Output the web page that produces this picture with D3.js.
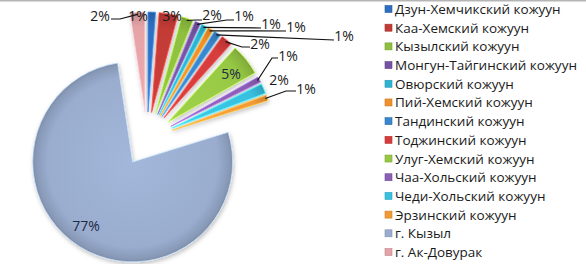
<!DOCTYPE html>
<html><head><meta charset="utf-8">
<script src="https://cdn.jsdelivr.net/npm/d3@7"></script>
<style>
html,body{margin:0;padding:0;background:#fff;}
svg{display:block;}
</style></head>
<body>
<svg id="chart" width="586" height="264"></svg>
<script>
// ---- data ----
const categories = [
  "Дзун-Хемчикский кожуун","Каа-Хемский кожуун","Кызылский кожуун","Монгун-Тайгинский кожуун",
  "Овюрский кожуун","Пий-Хемский кожуун","Тандинский кожуун","Тоджинский кожуун",
  "Улуг-Хемский кожуун","Чаа-Хольский кожуун","Чеди-Хольский кожуун","Эрзинский кожуун",
  "г. Кызыл","г. Ак-Довурак"
];
const values = [1.2, 3.0, 1.9, 0.9, 0.9, 0.9, 1.1, 1.8, 5.1, 0.9, 1.6, 0.9, 77.4, 2.4];
const labels = ["1%","3%","2%","1%","1%","1%","1%","2%","5%","1%","2%","1%","77%","2%"];

// ---- style / layout ----
const colors = ["#2f6fbf","#c23b36","#8fbf3f","#7453a3","#2fb3d3","#f0902c",
                "#3a86cc","#d63c3c","#97c844","#8a5fb5","#38c0e0","#f29a36","#9aadcf","#e4a3a7"];
const labelLayout = [
  {x:138,y:15},
  {x:172,y:15},
  {x:212,y:14, lead:[[202,20],[196,20]]},
  {x:244,y:15, lead:[[234,20],[227,20]]},
  {x:271,y:23, lead:[[261,28]]},
  {x:296,y:26, lead:[[286,31]]},
  {x:344,y:35, lead:[[334,40]]},
  {x:260,y:43, lead:[[250,47],[242,47]]},
  {x:231,y:73, dark:true},
  {x:288,y:55, lead:[[278,58],[272,58]]},
  {x:279,y:79},
  {x:306,y:88, lead:[[296,91],[286,91]]},
  {x:86,y:225, dark:true},
  {x:100,y:15, lead:[[111,19],[120,19]]}
];
const cx = 147, cy = 139, R = 100, explode = 27;

const svg = d3.select("#chart");
svg.append("rect").attr("x",0).attr("y",0).attr("width",586).attr("height",1.5).attr("fill","#b5b5b5");

const defs = svg.append("defs");
const f = defs.append("filter").attr("id","sh").attr("x","-20%").attr("y","-20%").attr("width","140%").attr("height","140%");
f.append("feDropShadow").attr("dx",1).attr("dy",2).attr("stdDeviation",2).attr("flood-color","#000").attr("flood-opacity",0.25);

colors.forEach((c,i)=>{
  const g = defs.append("radialGradient").attr("id","g"+i)
    .attr("gradientUnits","userSpaceOnUse").attr("cx",0).attr("cy",0).attr("r",R);
  g.append("stop").attr("offset","0%").attr("stop-color",d3.color(c).brighter(0.15));
  g.append("stop").attr("offset","85%").attr("stop-color",c);
  g.append("stop").attr("offset","97%").attr("stop-color",d3.color(c).darker(0.35));
  g.append("stop").attr("offset","100%").attr("stop-color",d3.color(c).darker(0.6));
});

const pie = d3.pie().sort(null).value(d=>d)(values);
const arc = d3.arc().innerRadius(0).outerRadius(R);

const gPie = svg.append("g").attr("transform",`translate(${cx},${cy})`);
function off(d){
  const a=(d.startAngle+d.endAngle)/2;
  return [Math.sin(a)*explode, -Math.cos(a)*explode];
}
gPie.selectAll("path").data(pie).join("path")
  .attr("transform",d=>{const o=off(d);return `translate(${o[0]},${o[1]})`;})
  .attr("d",arc)
  .attr("fill",(d,i)=>`url(#g${i})`)
  .attr("stroke",(d,i)=>d3.color(colors[i]).brighter(0.8))
  .attr("stroke-width",0.8)
  .attr("filter","url(#sh)");

// leader lines
pie.forEach((d,i)=>{
  const L = labelLayout[i];
  if(!L.lead) return;
  const a=(d.startAngle+d.endAngle)/2;
  const o=off(d);
  const px = cx + o[0] + Math.sin(a)*(R-2), py = cy + o[1] - Math.cos(a)*(R-2);
  const pts = L.lead.concat([[px,py]]);
  svg.append("path").attr("d",d3.line()(pts)).attr("fill","none").attr("stroke","#111").attr("stroke-width",1.2);
});

svg.selectAll("text.lbl").data(pie).join("text").attr("class","lbl")
  .attr("x",(d,i)=>labelLayout[i].x).attr("y",(d,i)=>labelLayout[i].y)
  .attr("text-anchor","middle").attr("dominant-baseline","central")
  .attr("font-family","Open Sans, sans-serif").attr("font-size",14)
  .attr("fill",(d,i)=>labelLayout[i].dark?"#1e2a44":"#1a1a1a")
  .text((d,i)=>labels[i]);

// legend
const legY = d3.scalePoint().domain(d3.range(categories.length)).range([9,252]);
const leg = svg.append("g");
const li = leg.selectAll("g").data(categories).join("g")
  .attr("transform",(d,i)=>`translate(385,${legY(i)})`);
li.append("rect").attr("x",0).attr("y",-3.5).attr("width",7).attr("height",7)
  .attr("fill",(d,i)=>colors[i]).attr("stroke",(d,i)=>d3.color(colors[i]).darker(0.5)).attr("stroke-width",0.6);
li.append("text").attr("x",10).attr("y",0).attr("dominant-baseline","central")
  .attr("font-family","Open Sans, sans-serif").attr("font-size",13.5).attr("fill","#1a1a1a")
  .text(d=>d);
</script>
</body></html>
